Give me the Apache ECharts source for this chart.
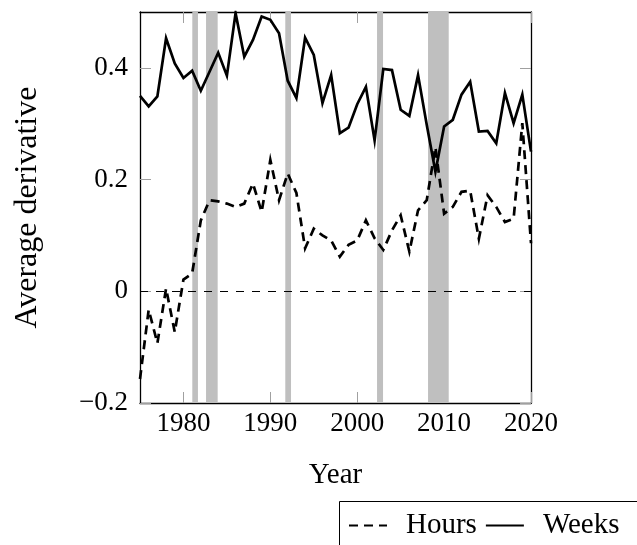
<!DOCTYPE html>
<html>
<head>
<meta charset="utf-8">
<script src="https://cdn.jsdelivr.net/npm/echarts@6/dist/echarts.min.js"></script>
<style>html,body{margin:0;padding:0;background:#fff;}#c{width:637px;height:545px;}</style>
</head>
<body>
<div id="c"></div>
<script>
var years = [1975,1976,1977,1978,1979,1980,1981,1982,1983,1984,1985,1986,1987,1988,1989,1990,1991,1992,1993,1994,1995,1996,1997,1998,1999,2000,2001,2002,2003,2004,2005,2006,2007,2008,2009,2010,2011,2012,2013,2014,2015,2016,2017,2018,2019,2020];
var hours = [-0.157,-0.033,-0.093,0.005,-0.073,0.021,0.032,0.127,0.163,0.161,0.157,0.151,0.157,0.193,0.142,0.235,0.163,0.211,0.176,0.077,0.112,0.100,0.091,0.062,0.083,0.091,0.127,0.095,0.074,0.109,0.136,0.071,0.145,0.163,0.258,0.139,0.151,0.178,0.180,0.094,0.172,0.151,0.124,0.130,0.301,0.086];
var weeks = [0.350,0.331,0.349,0.453,0.408,0.382,0.395,0.359,0.393,0.427,0.386,0.498,0.420,0.450,0.492,0.486,0.462,0.377,0.346,0.454,0.423,0.337,0.387,0.283,0.293,0.335,0.366,0.270,0.398,0.396,0.325,0.314,0.387,0.298,0.214,0.295,0.307,0.352,0.375,0.286,0.287,0.265,0.355,0.301,0.352,0.250];
var recessionStart = [1981.02,1982.6,1991.72,2002.28,2008.15];
var recessionEnd   = [1981.67,1983.94,1992.38,2002.97,2010.53];
var xTicks = [1980,1990,2000,2010,2020];
var yTicks = [-0.2,0,0.2,0.4];

var FONT = 'Liberation Serif';
function pairs(a, b){ var out=[]; for (var i=0;i<a.length;i++) out.push([a[i], b[i]]); return out; }
var bands = [];
for (var i=0;i<recessionStart.length;i++) bands.push([{xAxis: recessionStart[i]}, {xAxis: recessionEnd[i]}]);

var tickStyle = {show:true, inside:true, length:11, lineStyle:{color:'#a0a0a0', width:1}};
var lineAx = {show:true, onZero:false, lineStyle:{color:'#000', width:1.3}};

var chart = echarts.init(document.getElementById('c'), null, {renderer:'canvas'});
chart.setOption({
  animation:false,
  backgroundColor:'#fff',
  grid:{left:140, right:106, top:12, bottom:142},
  xAxis:[{
    type:'value', min:1975, max:2020, position:'bottom',
    name:'Year', nameLocation:'middle', nameGap:58,
    nameTextStyle:{fontFamily:FONT, fontSize:29, color:'#000'},
    axisLine:lineAx,
    axisTick:Object.assign({customValues:xTicks}, tickStyle),
    axisLabel:{customValues:xTicks, fontFamily:FONT, fontSize:27, color:'#000', margin:7,
      formatter:function(v){ return String(v); }},
    splitLine:{show:false}
  },{
    type:'value', min:1975, max:2020, position:'top',
    axisLine:lineAx,
    axisTick:Object.assign({customValues:xTicks}, tickStyle),
    axisLabel:{show:false}, splitLine:{show:false}
  }],
  yAxis:[{
    type:'value', min:-0.2, max:0.5, position:'left',
    name:'Average derivative', nameLocation:'middle', nameGap:96, nameRotate:90,
    nameTextStyle:{fontFamily:FONT, fontSize:32, color:'#000'},
    axisLine:lineAx,
    axisTick:Object.assign({customValues:yTicks}, tickStyle),
    axisLabel:{customValues:yTicks, fontFamily:FONT, fontSize:27, color:'#000', margin:12,
      formatter:function(v){ return v < 0 ? '\u2212' + Math.abs(v) : String(v); }},
    splitLine:{show:false}
  },{
    type:'value', min:-0.2, max:0.5, position:'right',
    axisLine:lineAx,
    axisTick:Object.assign({customValues:yTicks}, tickStyle),
    axisLabel:{show:false}, splitLine:{show:false}
  }],
  legend:{
    left:343, top:506, itemWidth:38, itemHeight:14, itemGap:8,
    itemStyle:{color:'rgba(0,0,0,0)', borderWidth:0, opacity:0},
    textStyle:{fontFamily:FONT, fontSize:29, color:'#000', padding:[0,0,0,14]},
    data:['Hours','Weeks']
  },
  graphic:[{type:'rect', left:337, top:499, shape:{width:400, height:100}, style:{fill:'none', stroke:'#000', lineWidth:1}, silent:true}],
  series:[{
    name:'Weeks', type:'line', data:pairs(years, weeks), symbol:'none', z:3,
    lineStyle:{color:'#000', width:2.7, join:'miter'}, itemStyle:{color:'#000'},
    markArea:{silent:true, itemStyle:{color:'#bfbfbf', opacity:1}, data:bands}
  },{
    name:'Hours', type:'line', data:pairs(years, hours), symbol:'none', z:3,
    lineStyle:{color:'#000', width:2.7, type:[9,6], join:'miter'}, itemStyle:{color:'#000'},
    markLine:{silent:true, symbol:['none','none'], label:{show:false},
      lineStyle:{color:'#000', width:1, type:[8,8]}, data:[{yAxis:0}]}
  }]
});
</script>
</body>
</html>
